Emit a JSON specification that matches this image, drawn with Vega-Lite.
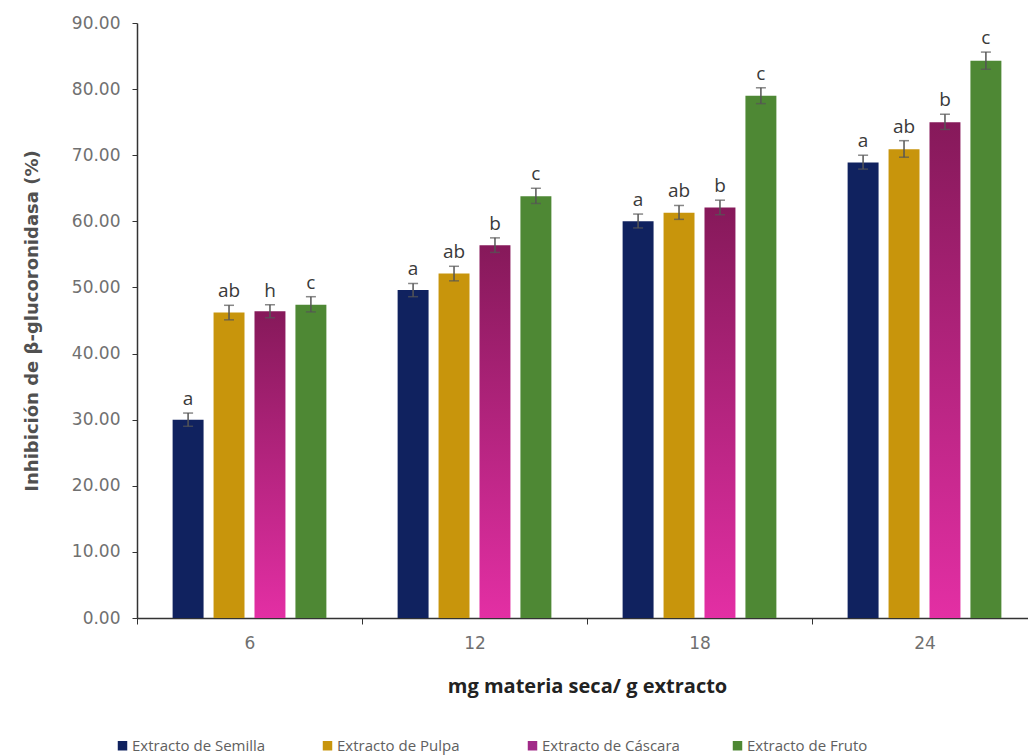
{
  "$schema": "https://vega.github.io/schema/vega-lite/v6.json",
  "width": 891,
  "height": 595,
  "autosize": {"type": "none"},
  "padding": {"left": 137, "top": 23, "right": 0, "bottom": 137},
  "background": "white",
  "config": {"view": {"stroke": null}},
  "data": {
    "values": [
      {"dosis": "6", "serie": "Extracto de Semilla", "valor": 30.0, "lo": 29.0, "hi": 31.0, "letra": "a"},
      {"dosis": "6", "serie": "Extracto de Pulpa", "valor": 46.2, "lo": 45.1, "hi": 47.3, "letra": "ab"},
      {"dosis": "6", "serie": "Extracto de Cáscara", "valor": 46.4, "lo": 45.4, "hi": 47.4, "letra": "h"},
      {"dosis": "6", "serie": "Extracto de Fruto", "valor": 47.4, "lo": 46.3, "hi": 48.6, "letra": "c"},
      {"dosis": "12", "serie": "Extracto de Semilla", "valor": 49.6, "lo": 48.6, "hi": 50.6, "letra": "a"},
      {"dosis": "12", "serie": "Extracto de Pulpa", "valor": 52.1, "lo": 51.0, "hi": 53.2, "letra": "ab"},
      {"dosis": "12", "serie": "Extracto de Cáscara", "valor": 56.4, "lo": 55.3, "hi": 57.5, "letra": "b"},
      {"dosis": "12", "serie": "Extracto de Fruto", "valor": 63.8, "lo": 62.7, "hi": 65.0, "letra": "c"},
      {"dosis": "18", "serie": "Extracto de Semilla", "valor": 60.0, "lo": 59.0, "hi": 61.1, "letra": "a"},
      {"dosis": "18", "serie": "Extracto de Pulpa", "valor": 61.3, "lo": 60.3, "hi": 62.4, "letra": "ab"},
      {"dosis": "18", "serie": "Extracto de Cáscara", "valor": 62.1, "lo": 61.0, "hi": 63.2, "letra": "b"},
      {"dosis": "18", "serie": "Extracto de Fruto", "valor": 79.0, "lo": 77.8, "hi": 80.2, "letra": "c"},
      {"dosis": "24", "serie": "Extracto de Semilla", "valor": 68.9, "lo": 67.9, "hi": 70.0, "letra": "a"},
      {"dosis": "24", "serie": "Extracto de Pulpa", "valor": 70.9, "lo": 69.7, "hi": 72.2, "letra": "ab"},
      {"dosis": "24", "serie": "Extracto de Cáscara", "valor": 75.0, "lo": 73.9, "hi": 76.2, "letra": "b"},
      {"dosis": "24", "serie": "Extracto de Fruto", "valor": 84.3, "lo": 83.0, "hi": 85.6, "letra": "c"}
    ]
  },
  "encoding": {
    "x": {
      "field": "dosis",
      "type": "nominal",
      "sort": ["6", "12", "18", "24"],
      "scale": {"paddingInner": 0, "paddingOuter": 0, "range": [0, 900]},
      "axis": {
        "title": "mg materia seca/ g extracto",
        "titleFont": "Open Sans",
        "titleFontWeight": "bold",
        "titleFontSize": 20,
        "titleColor": "#222222",
        "titlePadding": 25,
        "labelFont": "DejaVu Sans",
        "labelFontSize": 17,
        "labelColor": "#707070",
        "labelAngle": 0,
        "labelPadding": 11,
        "tickBand": "extent",
        "tickSize": 6,
        "tickColor": "#333333",
        "domainColor": "#333333",
        "domainWidth": 1.5,
        "grid": false
      }
    },
    "xOffset": {
      "field": "serie",
      "type": "nominal",
      "sort": ["Extracto de Semilla", "Extracto de Pulpa", "Extracto de Cáscara", "Extracto de Fruto"],
      "scale": {"paddingInner": 0.244, "paddingOuter": 0.87}
    }
  },
  "layer": [
    {
      "mark": {"type": "bar"},
      "encoding": {
        "y": {
          "field": "valor",
          "type": "quantitative",
          "scale": {"domain": [0, 90], "nice": false},
          "axis": {
            "title": "Inhibición de β-glucoronidasa (%)",
            "titleFont": "DejaVu Sans",
            "titleFontWeight": "bold",
            "titleFontSize": 18,
            "titleColor": "#505050",
            "titlePadding": 30,
            "values": [0, 10, 20, 30, 40, 50, 60, 70, 80, 90],
            "format": ".2f",
            "labelFont": "DejaVu Sans",
            "labelFontSize": 17,
            "labelColor": "#707070",
            "labelPadding": 12,
            "tickSize": 5,
            "tickColor": "#333333",
            "domainColor": "#333333",
            "domainWidth": 1.5,
            "grid": false
          }
        },
        "fill": {
          "condition": {
            "test": "datum.serie === 'Extracto de Cáscara'",
            "value": {
              "gradient": "linear",
              "x1": 0, "y1": 0, "x2": 0, "y2": 1,
              "stops": [
                {"offset": 0, "color": "#86195a"},
                {"offset": 1, "color": "#e32fa4"}
              ]
            }
          },
          "field": "serie",
          "type": "nominal",
          "sort": ["Extracto de Semilla", "Extracto de Pulpa", "Extracto de Cáscara", "Extracto de Fruto"],
          "scale": {
            "domain": ["Extracto de Semilla", "Extracto de Pulpa", "Extracto de Cáscara", "Extracto de Fruto"],
            "range": ["#10225f", "#c8950c", "#a12a88", "#4e8834"]
          },
          "legend": {
            "title": null,
            "orient": "none",
            "direction": "horizontal",
            "columns": 4,
            "gridAlign": "all",
            "legendX": -22,
            "legendY": 715,
            "symbolType": "square",
            "symbolSize": 90,
            "symbolStrokeWidth": 0,
            "labelFont": "Open Sans",
            "labelFontSize": 15,
            "labelColor": "#606060",
            "labelOffset": 2,
            "columnPadding": 50
          }
        }
      }
    },
    {
      "mark": {"type": "rule", "color": "#555555", "strokeWidth": 1.5},
      "encoding": {
        "y": {"field": "lo", "type": "quantitative"},
        "y2": {"field": "hi"}
      }
    },
    {
      "mark": {"type": "tick", "color": "#555555", "thickness": 1.5, "size": 10},
      "encoding": {
        "y": {"field": "hi", "type": "quantitative"}
      }
    },
    {
      "mark": {"type": "tick", "color": "#555555", "thickness": 1.5, "size": 10},
      "encoding": {
        "y": {"field": "lo", "type": "quantitative"}
      }
    },
    {
      "mark": {"type": "text", "baseline": "bottom", "dy": -4, "font": "Open Sans", "fontSize": 19, "color": "#3a3a3a"},
      "encoding": {
        "y": {"field": "hi", "type": "quantitative"},
        "text": {"field": "letra"}
      }
    }
  ]
}
